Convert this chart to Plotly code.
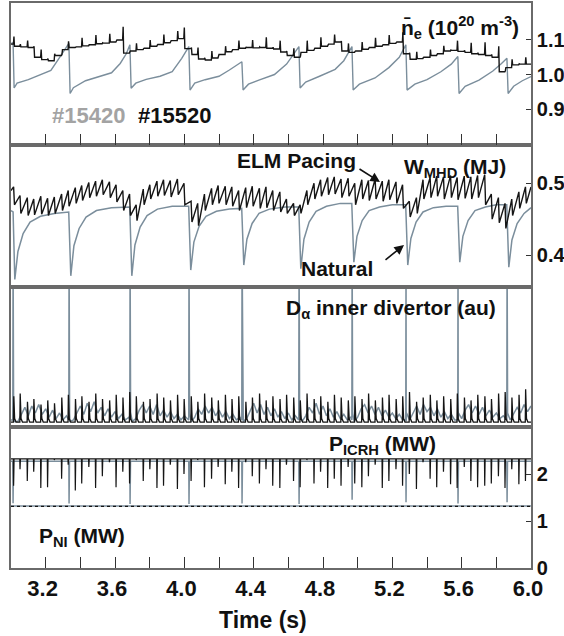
import numpy as np
import plotly.graph_objects as go

# ---------------- data ----------------
# natural ELM times of shot #15420 and pacing times of shot #15520 (s)
t_nat = [3.012, 3.335, 3.687, 4.027, 4.333, 4.662, 4.968, 5.279, 5.579, 5.862]
t_pace = [3.015, 3.052, 3.094, 3.131, 3.172, 3.211, 3.250, 3.292, 3.330, 3.371,
          3.408, 3.449, 3.488, 3.527, 3.568, 3.606, 3.645, 3.684, 3.722, 3.763,
          3.801, 3.842, 3.880, 3.919, 3.960, 3.998, 4.039, 4.077, 4.116, 4.157,
          4.195, 4.236, 4.274, 4.313, 4.354, 4.392, 4.433, 4.471, 4.510, 4.551,
          4.589, 4.630, 4.668, 4.707, 4.748, 4.786, 4.827, 4.865, 4.904, 4.945,
          4.983, 5.024, 5.062, 5.101, 5.142, 5.180, 5.221, 5.259, 5.298, 5.339,
          5.377, 5.418, 5.456, 5.495, 5.536, 5.574, 5.615, 5.653, 5.692, 5.733,
          5.771, 5.812, 5.850, 5.889, 5.930, 5.968]

# line-averaged density, #15420 (natural)  [1e20 m^-3]
ne15420_t = [3.000, 3.012, 3.018, 3.035, 3.100, 3.160, 3.230, 3.275, 3.300, 3.334,
             3.341, 3.360, 3.430, 3.500, 3.580, 3.630, 3.665, 3.686,
             3.693, 3.720, 3.780, 3.860, 3.930, 3.985, 4.026,
             4.033, 4.060, 4.120, 4.200, 4.260, 4.300, 4.332,
             4.339, 4.370, 4.430, 4.520, 4.590, 4.625, 4.661,
             4.668, 4.700, 4.780, 4.870, 4.920, 4.967,
             4.974, 5.010, 5.100, 5.180, 5.240, 5.278,
             5.285, 5.330, 5.400, 5.480, 5.540, 5.578,
             5.585, 5.620, 5.700, 5.780, 5.830, 5.861,
             5.868, 5.900, 5.950, 6.000]
ne15420 = [1.090, 1.092, 0.961, 0.975, 0.985, 0.998, 1.012, 1.045, 1.065, 1.090,
           0.945, 0.962, 0.982, 0.992, 1.005, 1.032, 1.060, 1.086,
           0.960, 0.975, 0.986, 0.995, 1.008, 1.047, 1.081,
           0.955, 0.975, 0.985, 0.995, 1.013, 1.025, 1.037,
           0.955, 0.972, 0.984, 1.000, 1.030, 1.055, 1.081,
           0.961, 0.978, 0.995, 1.015, 1.040, 1.081,
           0.955, 0.972, 0.990, 1.020, 1.050, 1.086,
           0.955, 0.972, 0.985, 1.008, 1.030, 1.052,
           0.945, 0.966, 0.984, 1.010, 1.032, 1.047,
           0.945, 0.966, 0.982, 0.994]

# line-averaged density, #15520 (pacing): level before each pacing event and spike top
ne15520_start = 1.088
ne15520_base = [1.088, 1.082, 1.080, 1.078, 1.050, 1.043, 1.040, 1.055, 1.072, 1.078,
                1.080, 1.083, 1.086, 1.089, 1.091, 1.094, 1.100, 1.062, 1.068, 1.072,
                1.076, 1.082, 1.087, 1.092, 1.098, 1.104, 1.075, 1.058, 1.045, 1.042,
                1.048, 1.058, 1.066, 1.072, 1.076, 1.078, 1.077, 1.078, 1.076, 1.074,
                1.065, 1.055, 1.050, 1.064, 1.070, 1.076, 1.082, 1.088, 1.094, 1.068,
                1.064, 1.068, 1.073, 1.078, 1.082, 1.086, 1.090, 1.094, 1.060, 1.044,
                1.046, 1.050, 1.055, 1.060, 1.068, 1.070, 1.067, 1.064, 1.060, 1.058,
                1.055, 1.050, 1.008, 1.020, 1.028, 1.030]
ne15520_top = [1.110, 1.088, 1.098, 1.082, 1.072, 1.046, 1.060, 1.058, 1.096, 1.080,
               1.106, 1.086, 1.114, 1.092, 1.118, 1.097, 1.138, 1.066, 1.090, 1.075,
               1.100, 1.085, 1.116, 1.095, 1.126, 1.136, 1.078, 1.078, 1.048, 1.068,
               1.052, 1.082, 1.069, 1.098, 1.080, 1.100, 1.080, 1.108, 1.079, 1.098,
               1.068, 1.076, 1.053, 1.098, 1.073, 1.108, 1.085, 1.116, 1.097, 1.090,
               1.067, 1.094, 1.076, 1.106, 1.085, 1.114, 1.093, 1.122, 1.063, 1.066,
               1.049, 1.072, 1.058, 1.083, 1.071, 1.098, 1.070, 1.092, 1.063, 1.093,
               1.058, 1.082, 1.011, 1.044, 1.031, 1.050]

# stored energy, #15420 (natural)  [MJ]
w15420_t = [3.000, 3.012, 3.022, 3.040, 3.070, 3.110, 3.170, 3.250, 3.333,
            3.345, 3.363, 3.393, 3.433, 3.493, 3.580, 3.685,
            3.697, 3.715, 3.745, 3.785, 3.845, 3.930, 4.025,
            4.037, 4.055, 4.085, 4.125, 4.185, 4.260, 4.331,
            4.343, 4.361, 4.391, 4.431, 4.491, 4.580, 4.660,
            4.672, 4.690, 4.720, 4.760, 4.820, 4.900, 4.966,
            4.978, 4.996, 5.026, 5.066, 5.126, 5.200, 5.277,
            5.289, 5.307, 5.337, 5.377, 5.437, 5.510, 5.577,
            5.589, 5.607, 5.637, 5.677, 5.737, 5.800, 5.860,
            5.872, 5.890, 5.920, 5.960, 6.000]
w15420 = [0.462, 0.460, 0.366, 0.405, 0.430, 0.446, 0.454, 0.458, 0.460,
          0.371, 0.413, 0.437, 0.453, 0.462, 0.466, 0.467,
          0.371, 0.414, 0.439, 0.455, 0.464, 0.468, 0.468,
          0.379, 0.418, 0.440, 0.454, 0.461, 0.464, 0.465,
          0.386, 0.422, 0.444, 0.458, 0.464, 0.467, 0.467,
          0.381, 0.422, 0.446, 0.461, 0.468, 0.472, 0.472,
          0.390, 0.426, 0.448, 0.462, 0.467, 0.470, 0.470,
          0.386, 0.423, 0.446, 0.460, 0.466, 0.468, 0.468,
          0.390, 0.426, 0.448, 0.462, 0.467, 0.470, 0.470,
          0.383, 0.421, 0.444, 0.458, 0.466]

# stored energy, #15520 (pacing): value before / after each pacing event
w15520_start, w15520_end = 0.490, 0.495
w15520_peak = [0.495, 0.483, 0.480, 0.478, 0.482, 0.479, 0.481, 0.485, 0.490, 0.494,
               0.497, 0.501, 0.503, 0.505, 0.502, 0.498, 0.490, 0.485, 0.470, 0.492,
               0.498, 0.503, 0.505, 0.504, 0.506, 0.500, 0.475, 0.472, 0.485, 0.493,
               0.497, 0.496, 0.495, 0.490, 0.494, 0.496, 0.493, 0.495, 0.490, 0.488,
               0.478, 0.472, 0.470, 0.490, 0.500, 0.505, 0.508, 0.509, 0.506, 0.507,
               0.500, 0.505, 0.504, 0.506, 0.503, 0.505, 0.502, 0.498, 0.475, 0.480,
               0.505, 0.508, 0.510, 0.509, 0.511, 0.508, 0.510, 0.509, 0.511, 0.512,
               0.485, 0.480, 0.472, 0.478, 0.488, 0.495]
w15520_trough = [0.470, 0.458, 0.455, 0.456, 0.457, 0.455, 0.458, 0.462, 0.468, 0.472,
                 0.476, 0.480, 0.482, 0.484, 0.480, 0.474, 0.462, 0.455, 0.448, 0.470,
                 0.478, 0.482, 0.483, 0.481, 0.484, 0.470, 0.446, 0.441, 0.462, 0.470,
                 0.472, 0.470, 0.468, 0.462, 0.466, 0.468, 0.465, 0.466, 0.462, 0.460,
                 0.458, 0.455, 0.458, 0.470, 0.478, 0.482, 0.484, 0.485, 0.480, 0.482,
                 0.470, 0.478, 0.476, 0.478, 0.475, 0.477, 0.472, 0.465, 0.453, 0.458,
                 0.478, 0.480, 0.482, 0.478, 0.480, 0.477, 0.479, 0.478, 0.480, 0.470,
                 0.450, 0.445, 0.437, 0.455, 0.465, 0.472]

# D-alpha inner divertor (au), #15420: sampled every 20 ms from 3.00 s, plus ELM peaks
da15420_t0, da15420_dt = 3.00, 0.02
da15420 = [0.05, 0.04,
           0.04, 0.09, 0.14, 0.08, 0.15, 0.10, 0.16, 0.09, 0.13, 0.07, 0.12, 0.06, 0.10, 0.05, 0.08,
           0.04, 0.05, 0.10, 0.15, 0.09, 0.17, 0.11, 0.18, 0.10, 0.14, 0.08, 0.13, 0.07, 0.11, 0.06, 0.09, 0.05, 0.07,
           0.04, 0.06, 0.12, 0.16, 0.10, 0.15, 0.09, 0.16, 0.08, 0.12, 0.07, 0.11, 0.06, 0.09, 0.05, 0.08, 0.05,
           0.04, 0.07, 0.13, 0.09, 0.15, 0.10, 0.14, 0.08, 0.12, 0.07, 0.11, 0.06, 0.09, 0.05, 0.07,
           0.04, 0.06, 0.12, 0.17, 0.10, 0.16, 0.09, 0.14, 0.08, 0.13, 0.07, 0.11, 0.06, 0.10, 0.05, 0.08, 0.05,
           0.04, 0.08, 0.14, 0.10, 0.17, 0.09, 0.15, 0.08, 0.13, 0.07, 0.11, 0.06, 0.09, 0.05, 0.07,
           0.04, 0.07, 0.13, 0.16, 0.10, 0.15, 0.09, 0.14, 0.08, 0.12, 0.07, 0.10, 0.06, 0.09, 0.05, 0.04,
           0.05, 0.10, 0.15, 0.09, 0.16, 0.11, 0.14, 0.08, 0.13, 0.07, 0.11, 0.06, 0.09, 0.05, 0.04,
           0.06, 0.12, 0.16, 0.10, 0.15, 0.09, 0.14, 0.08, 0.12, 0.07, 0.10, 0.06, 0.08, 0.05,
           0.05, 0.09, 0.14, 0.10, 0.16, 0.11, 0.15]
da15420_elm = [1.30, 1.30, 1.30, 1.30, 1.30, 1.30, 1.30, 1.30, 1.30, 1.30]
# D-alpha, #15520: floor and peak of each paced ELM
da15520_floor = 0.035
da15520_peak = [0.22, 0.24, 0.18, 0.20, 0.16, 0.19, 0.17, 0.21, 0.23, 0.20,
                0.22, 0.18, 0.24, 0.20, 0.19, 0.23, 0.21, 0.25, 0.22, 0.18,
                0.20, 0.24, 0.21, 0.19, 0.23, 0.20, 0.22, 0.18, 0.24, 0.21,
                0.19, 0.23, 0.20, 0.22, 0.18, 0.21, 0.24, 0.19, 0.22, 0.20,
                0.23, 0.21, 0.19, 0.24, 0.20, 0.22, 0.18, 0.23, 0.21, 0.19,
                0.22, 0.20, 0.24, 0.19, 0.21, 0.23, 0.20, 0.22, 0.25, 0.18,
                0.21, 0.23, 0.19, 0.22, 0.20, 0.24, 0.21, 0.19, 0.23, 0.22,
                0.20, 0.24, 0.25, 0.21, 0.23, 0.27]

# ICRH power (MW): level and dip minimum at each ELM
icrh15420_level = 2.27
icrh15420_dip = [1.38, 1.37, 1.36, 1.36, 1.37, 1.36, 1.45, 1.40, 1.37, 1.40]
icrh15520_level = 2.32
icrh15520_dip = [1.75, 2.10, 1.85, 2.05, 1.70, 1.72, 2.30, 1.90, 2.20, 1.65,
                 1.80, 2.15, 1.70, 1.95, 2.25, 1.72, 2.05, 1.80, 2.30, 1.85,
                 2.10, 1.70, 1.75, 2.20, 1.68, 2.00, 1.85, 2.30, 1.72, 1.90,
                 2.15, 1.78, 2.05, 1.70, 2.25, 1.95, 1.80, 2.10, 1.75, 1.70,
                 2.20, 1.85, 1.72, 2.30, 1.80, 2.05, 1.70, 1.90, 1.75, 2.15,
                 1.80, 1.72, 1.95, 2.20, 1.70, 1.85, 2.10, 1.75, 2.00, 1.68,
                 2.25, 1.90, 1.72, 2.05, 1.78, 1.70, 2.15, 1.85, 1.72, 1.75,
                 1.80, 1.95, 1.70, 2.10, 1.78, 1.85]
# NBI power (MW)
pni_t = [3.0, 6.0]
pni15420 = [1.32, 1.32]
pni15520 = [1.31, 1.31]

x_ticks = [3.2, 3.6, 4.0, 4.4, 4.8, 5.2, 5.6, 6.0]
x_ticktext = ["3.2", "3.6", "4.0", "4.4", "4.8", "5.2", "5.6", "6.0"]

# ---------------- build traces ----------------
GRAY = "#7b8e9c"
BLACK = "#151515"
FRAME = "#6a6a6a"
FONT = "Liberation Sans, Arial, sans-serif"

def ne_pacing():
    xs, ys = [3.0], [ne15520_start]
    n = len(t_pace)
    for i, t in enumerate(t_pace):
        nxt = ne15520_base[i + 1] if i + 1 < n else ne15520_base[i]
        xs += [t - 0.001, t + 0.002, t + 0.005]
        ys += [ne15520_base[i], ne15520_top[i], nxt]
    xs.append(6.0); ys.append(ne15520_base[-1])
    return xs, ys

def w_pacing():
    xs, ys = [3.0], [w15520_start]
    for t, p, q in zip(t_pace, w15520_peak, w15520_trough):
        xs += [t, t + 0.005]
        ys += [p, q]
    xs.append(6.0); ys.append(w15520_end)
    return xs, ys

def da_natural():
    pts = [(da15420_t0 + k * da15420_dt, v) for k, v in enumerate(da15420)]
    for t, h in zip(t_nat, da15420_elm):
        pts += [(t - 0.0015, 0.05), (t, h), (t + 0.003, 0.10)]
    pts.sort()
    return [p[0] for p in pts], [p[1] for p in pts]

def da_pacing():
    xs, ys = [3.0], [da15520_floor]
    for t, h in zip(t_pace, da15520_peak):
        xs += [t - 0.001, t + 0.001, t + 0.006, t + 0.014]
        ys += [da15520_floor, h, 0.06, da15520_floor]
    xs.append(6.0); ys.append(da15520_floor)
    return xs, ys

def dips(times, level, mins):
    xs, ys = [3.0], [level]
    for t, d in zip(times, mins):
        xs += [t - 0.0015, t, t + 0.0025]
        ys += [level, d, level]
    xs.append(6.0); ys.append(level)
    return xs, ys

fig = go.Figure()

def add(x, y, color, width, ax, dash="solid"):
    fig.add_trace(go.Scatter(x=x, y=y, mode="lines", xaxis="x" + ax, yaxis="y" + ax,
                             line=dict(color=color, width=width, dash=dash),
                             showlegend=False, hoverinfo="skip"))

# panel 1 (top) -> axes 4 ; panel 4 (bottom) -> axes 1
add(ne15420_t, ne15420, GRAY, 1.4, "4")
x, y = ne_pacing(); add(x, y, BLACK, 1.4, "4")
add(w15420_t, w15420, GRAY, 1.5, "3")
x, y = w_pacing(); add(x, y, BLACK, 1.4, "3")
x, y = da_natural(); add(x, y, GRAY, 1.5, "2")
x, y = da_pacing(); add(x, y, BLACK, 1.3, "2")
x, y = dips(t_nat, icrh15420_level, icrh15420_dip); add(x, y, GRAY, 1.5, "")
x, y = dips(t_pace, icrh15520_level, icrh15520_dip); add(x, y, BLACK, 1.2, "")
add(pni_t, pni15420, GRAY, 1.6, "")
add(pni_t, pni15520, BLACK, 1.3, "", dash="dot")

# ---------------- layout ----------------
W, H = 564, 636
ml, mr, mt, mb = 11, 33, 3, 68
pw, ph = W - ml - mr, H - mt - mb

def py(y):
    return (H - mb - y) / ph

def px(x):
    return (x - ml) / pw

d1 = [py(145), 1.0]
d2 = [py(287), py(145)]
d3 = [py(427), py(287)]
d4 = [0.0, py(427)]

line_kw = dict(showline=True, linecolor=FRAME, linewidth=1.6, mirror=True,
               showgrid=False, zeroline=False, automargin=False, fixedrange=True)
tick_font = dict(family=FONT, size=22, color="#111111", weight="bold")
ytick_font = dict(family=FONT, size=20, color="#111111", weight="bold")
minor_x = dict(ticks="inside", ticklen=11, tickwidth=1.4, tickcolor="#333333",
               tick0=3.0, dtick=0.2, showgrid=False)

xcommon = dict(range=[3.0, 6.0], **line_kw)
fig.update_layout(
    width=W, height=H, margin=dict(l=ml, r=mr, t=mt, b=mb),
    paper_bgcolor="white", plot_bgcolor="white",
    xaxis=dict(domain=[0, 1], anchor="y", ticks="inside", ticklen=11, tickwidth=1.4,
               tickcolor="#333333", tickvals=x_ticks, ticktext=x_ticktext,
               tickfont=tick_font, minor=minor_x, ticklabelshift=-3, **xcommon),
    xaxis2=dict(domain=[0, 1], anchor="y2", ticks="", showticklabels=False, **xcommon),
    xaxis3=dict(domain=[0, 1], anchor="y3", ticks="", showticklabels=False, **xcommon),
    xaxis4=dict(domain=[0, 1], anchor="y4", ticks="inside", ticklen=11, tickwidth=1.4,
                tickcolor="#333333", tickvals=x_ticks, showticklabels=False,
                minor=minor_x, **xcommon),
    yaxis=dict(domain=d4, anchor="x", side="right", range=[0, 3.0],
               tickvals=[0, 1, 2], ticktext=["0", "1", "2"], ticks="inside", ticklen=5,
               tickcolor="#333333", tickfont=ytick_font, **line_kw),
    yaxis2=dict(domain=d3, anchor="x2", side="right", range=[0, 1.0],
                ticks="", showticklabels=False, **line_kw),
    yaxis3=dict(domain=d2, anchor="x3", side="right", range=[0.3554, 0.5534],
                tickvals=[0.4, 0.5], ticktext=["0.4", "0.5"], ticks="inside", ticklen=5,
                tickcolor="#333333", tickfont=ytick_font, **line_kw),
    yaxis4=dict(domain=d1, anchor="x4", side="right", range=[0.796, 1.207],
                tickvals=[0.9, 1.0, 1.1], ticktext=["0.9", "1.0", "1.1"], ticks="inside",
                ticklen=5, tickcolor="#333333", tickfont=ytick_font, **line_kw),
)

def label(text, x, y, size=21, color="#111111", xanchor="left"):
    fig.add_annotation(text=text, x=px(x), y=py(y), xref="paper", yref="paper",
                       xanchor=xanchor, yanchor="middle", showarrow=False,
                       font=dict(family=FONT, size=size, color=color, weight="bold"))

label("n\u0304<sub>e</sub> (10<sup>20</sup> m<sup>-3</sup>)", 521, 27, xanchor="right")
label("#15420", 50, 115, size=22, color="#a3a3a3")
label("#15520", 136, 115, size=22)
label("ELM Pacing", 235, 161)
label("W<sub>MHD</sub> (MJ)", 402, 168)
label("Natural", 299, 268)
label("D<sub>\u03b1</sub> inner divertor (au)", 284, 309)
label("P<sub>ICRH</sub> (MW)", 327, 445)
label("P<sub>NI</sub> (MW)", 37, 537)
label("Time (s)", 263, 620, size=23, xanchor="center")

# arrows
def arrow(x_head, y_head, x_tail, y_tail):
    fig.add_annotation(x=px(x_head), y=py(y_head), xref="paper", yref="paper",
                       ax=x_tail - x_head, ay=y_tail - y_head, axref="pixel", ayref="pixel",
                       text="", showarrow=True, arrowhead=2, arrowsize=1.2, arrowwidth=1.6,
                       arrowcolor="#111111")

arrow(380, 182, 358, 168)
arrow(404, 245, 384, 261)

fig.write_html("out.html", config={"displayModeBar": False},
               post_script="document.body.style.margin='0px';")
